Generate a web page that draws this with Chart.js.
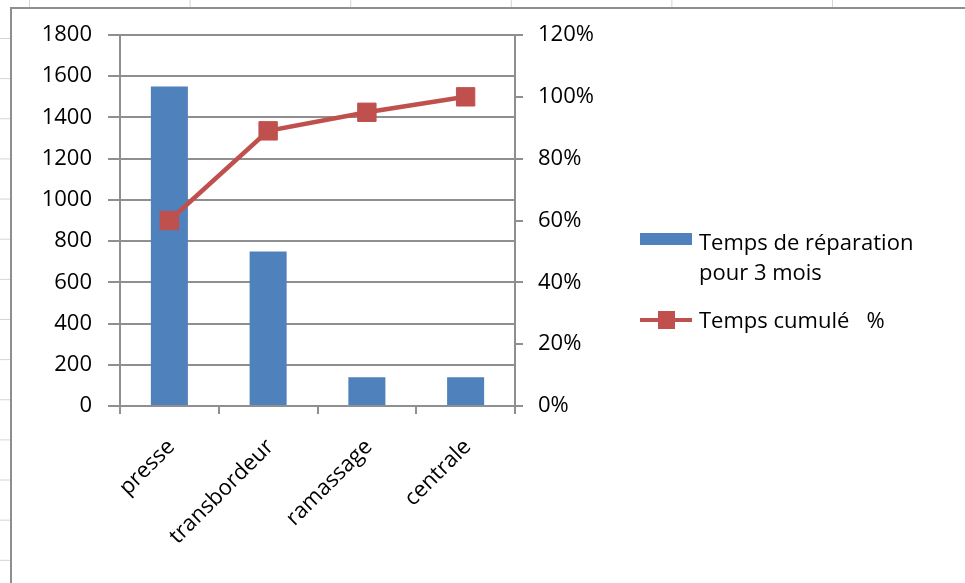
<!DOCTYPE html>
<html>
<head>
<meta charset="utf-8">
<script src="https://cdn.jsdelivr.net/npm/chart.js@4"></script>
<style>
  html, body { margin: 0; padding: 0; }
  body {
    width: 965px; height: 583px; position: relative; overflow: hidden;
    background-color: #fff;
    /* spreadsheet cells peeking out behind the chart */
    background-image:
      linear-gradient(to bottom, #cdd5e2 1px, transparent 1px),
      linear-gradient(to right, #cdd5e2 1px, transparent 1px);
    background-size: 100% 40.15px, 160.6px 100%;
    background-position: 0 38px, 29px 0;
    font-family: "Open Sans", sans-serif;
  }
  #frame {
    position: absolute; left: 10px; top: 7px; right: -10px; bottom: -10px;
    background: #fff; border-left: 2px solid #8e8e8e; border-top: 2px solid #8e8e8e;
  }
  #chart { position: absolute; left: 0; top: 0; }
  .legend { position: absolute; font-size: 22px; line-height: 30px; color: #000; white-space: pre; }
  .swatch { position: absolute; }
</style>
</head>
<body>
<div id="frame"></div>
<canvas id="chart" width="965" height="583"></canvas>

<div class="swatch" style="left:640px; top:233px; width:52px; height:12px; background:#4f81bd;"></div>
<div class="legend" style="left:699px; top:226px;">Temps de réparation
pour 3 mois</div>

<div class="swatch" style="left:640px; top:318px; width:52px; height:4px; background:#c0504d;"></div>
<div class="swatch" style="left:658px; top:311px; width:17px; height:18px; background:#c0504d;"></div>
<div class="legend" style="left:699px; top:304px;">Temps cumulé   %</div>

<script>
// categories and values
const categories = ['presse', 'transbordeur', 'ramassage', 'centrale'];
const repairTime = [1550, 750, 140, 140];
const cumulPercent = [60, 89, 95, 100];

const leftTicks = { min: 0, max: 1800, step: 200 };
const rightTicks = { min: 0, max: 120, step: 20 };

const gridColor = '#8f8f8f';
const tickFont = { family: 'Open Sans', size: 22 };

// plot area in the reference: x 120..515, y 35..406
const plotLeft = 120, plotRight = 515, plotTop = 35, plotBottom = 406;

const ctx = document.getElementById('chart').getContext('2d');

new Chart(ctx, {
  type: 'bar',
  data: {
    labels: categories,
    datasets: [
      {
        type: 'line',
        label: 'Temps cumulé   %',
        data: cumulPercent,
        yAxisID: 'y1',
        order: 0,
        borderColor: '#c0504d',
        borderWidth: 4.5,
        tension: 0,
        pointStyle: 'rect',
        pointRadius: 13,
        pointBackgroundColor: '#c0504d',
        pointBorderColor: '#c0504d',
        pointBorderWidth: 1,
      },
      {
        label: 'Temps de réparation pour 3 mois',
        data: repairTime,
        yAxisID: 'y',
        order: 1,
        backgroundColor: '#4f81bd',
        categoryPercentage: 1,
        barPercentage: 0.375,
      },
    ],
  },
  options: {
    responsive: false,
    animation: false,
    devicePixelRatio: 1,
    layout: { padding: { left: 0, right: 0, top: plotTop, bottom: 0 } },
    plugins: {
      legend: { display: false },
      tooltip: { enabled: false },
    },
    scales: {
      x: {
        afterFit: (scale) => { scale.height = 583 - plotBottom; },
        grid: { offset: true, drawOnChartArea: false, drawTicks: true, tickLength: 8, color: gridColor, lineWidth: 2 },
        border: { color: gridColor, width: 2 },
        ticks: {
          color: '#000',
          font: tickFont,
          minRotation: 45,
          maxRotation: 45,
          padding: 20,
          labelOffset: 2,
        },
      },
      y: {
        position: 'left',
        min: leftTicks.min,
        max: leftTicks.max,
        afterFit: (scale) => { scale.width = plotLeft; },
        grid: { color: gridColor, lineWidth: 2, tickLength: 12 },
        border: { color: gridColor, width: 2 },
        ticks: {
          stepSize: leftTicks.step,
          color: '#000',
          font: tickFont,
          padding: 16,
          callback: (v) => String(v),
        },
      },
      y1: {
        position: 'right',
        min: rightTicks.min,
        max: rightTicks.max,
        afterFit: (scale) => { scale.width = 965 - plotRight; },
        grid: { drawOnChartArea: false, color: gridColor, lineWidth: 2, tickLength: 8 },
        border: { color: gridColor, width: 2 },
        ticks: {
          stepSize: rightTicks.step,
          color: '#000',
          font: tickFont,
          padding: 15,
          callback: (v) => v + '%',
        },
      },
    },
  },
});
</script>
</body>
</html>
